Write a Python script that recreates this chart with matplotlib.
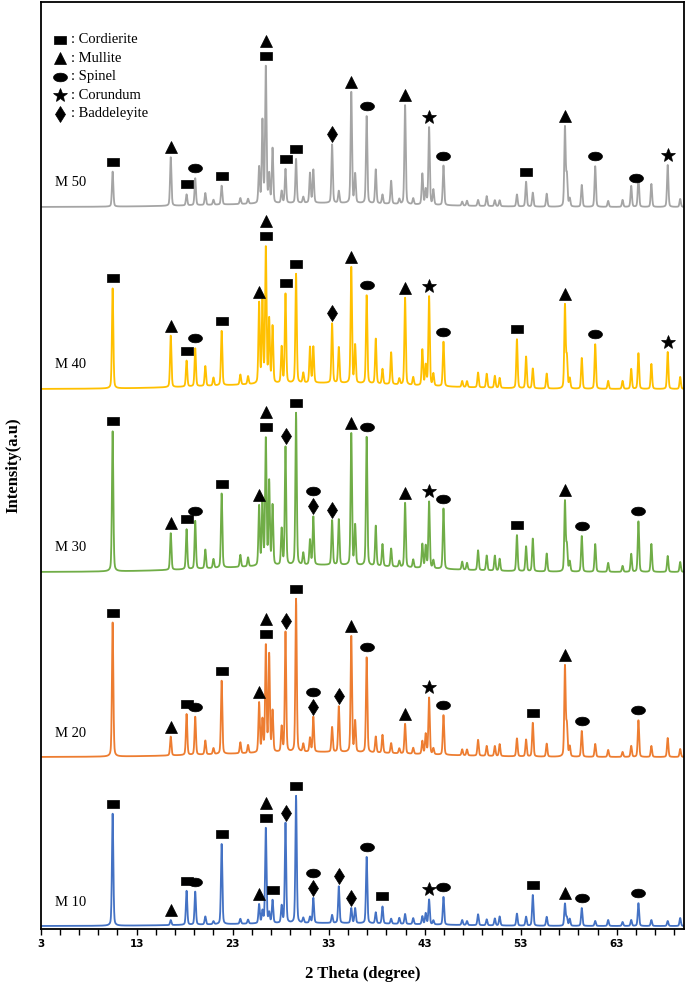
import numpy as np
import matplotlib
matplotlib.use("Agg")
import matplotlib.pyplot as plt

# peak positions (2 theta, degree) shared by all samples
peak_pos = [10.5, 16.55, 18.2, 19.1, 20.15, 21.0, 21.85, 23.8, 24.6, 25.75,
            26.1, 26.45, 26.8, 27.15, 28.1, 28.5, 29.6, 30.35, 31.05, 31.4,
            33.35, 34.05, 35.35, 35.75, 36.95, 37.9, 38.6, 39.5, 40.35, 40.95,
            41.8, 42.75, 43.1, 43.45, 43.9, 44.95, 46.9, 47.4, 48.55, 49.45,
            50.3, 50.8, 52.6, 53.55, 54.25, 55.7, 57.6, 57.8, 58.1, 59.35,
            60.75, 62.1, 63.6, 64.5, 65.25, 66.6, 68.3, 69.6]

# peak heights (arbitrary units)
h_m10 = [112, 5, 34, 33, 8, 3, 81, 5, 4, 19,
         12, 96, 10, 23, 17, 100, 127, 5, 6, 25,
         8, 37, 15, 15, 67, 11, 17, 5, 6, 10,
         6, 8, 11, 25, 4, 28, 5, 4, 11, 6,
         7, 9, 12, 9, 31, 9, 22, 8, 7, 18,
         5, 6, 4, 6, 23, 6, 5, 8]
h_m20 = [134, 19, 41, 38, 14, 6, 74, 11, 8, 50,
         32, 107, 97, 41, 25, 120, 153, 8, 14, 35,
         25, 46, 117, 31, 96, 16, 18, 10, 5, 30,
         6, 13, 20, 57, 6, 40, 6, 6, 16, 10,
         10, 12, 18, 17, 34, 13, 90, 30, 10, 26,
         13, 7, 5, 11, 37, 11, 19, 8]
h_m30 = [140, 37, 40, 48, 19, 9, 75, 12, 9, 60,
         65, 127, 83, 60, 36, 118, 152, 12, 25, 48,
         45, 46, 133, 40, 130, 40, 22, 18, 6, 65,
         8, 24, 22, 67, 8, 61, 8, 7, 20, 15,
         15, 12, 36, 25, 33, 18, 70, 25, 10, 36,
         28, 9, 6, 18, 51, 28, 16, 10]
h_m40 = [100, 52, 26, 38, 20, 8, 55, 10, 8, 81,
         81, 136, 63, 57, 36, 89, 109, 10, 36, 36,
         60, 36, 117, 38, 89, 45, 15, 32, 6, 88,
         8, 36, 20, 90, 12, 45, 6, 6, 15, 14,
         12, 10, 49, 32, 20, 15, 83, 30, 10, 31,
         45, 8, 8, 20, 36, 25, 37, 12]
h_m50 = [35, 49, 11, 27, 12, 5, 19, 6, 5, 36,
         82, 137, 28, 55, 12, 34, 44, 6, 30, 33,
         59, 12, 112, 29, 88, 34, 9, 23, 5, 100,
         6, 31, 15, 78, 15, 40, 4, 5, 6, 10,
         6, 6, 12, 25, 14, 13, 79, 30, 8, 22,
         41, 6, 7, 21, 30, 23, 42, 8]

samples = ["M 10", "M 20", "M 30", "M 40", "M 50"]
heights = [h_m10, h_m20, h_m30, h_m40, h_m50]
offsets = [3, 172, 357, 540, 722]
hump = [3, 5, 7, 6, 4]  # broad amorphous background
colors = ["#4472c4", "#ed7d31", "#70ad47", "#ffc000", "#a5a5a5"]

# phase marks: (2 theta, symbols from bottom to top)
# s cordierite, m mullite, o spinel, c corundum, b baddeleyite
marks_m10 = [(10.5, "s"), (16.55, "m"), (18.2, "s"), (19.1, "o"), (21.85, "s"),
             (25.75, "m"), (26.45, "sm"), (27.15, "s"), (28.5, "b"), (29.6, "s"),
             (31.4, "bo"), (34.05, "b"), (35.35, "b"), (36.95, "o"), (38.6, "s"),
             (43.45, "c"), (44.95, "o"), (54.25, "s"), (57.6, "m"), (59.35, "o"),
             (65.25, "o")]
marks_m20 = [(10.5, "s"), (16.55, "m"), (18.2, "s"), (19.1, "o"), (21.85, "s"),
             (25.75, "m"), (26.45, "sm"), (28.5, "b"), (29.6, "s"), (31.4, "bo"),
             (34.05, "b"), (35.35, "m"), (36.95, "o"), (40.95, "m"), (43.45, "c"),
             (44.95, "o"), (54.25, "s"), (57.6, "m"), (59.35, "o"), (65.25, "o")]
marks_m30 = [(10.5, "s"), (16.55, "m"), (18.2, "s"), (19.1, "o"), (21.85, "s"),
             (25.75, "m"), (26.45, "sm"), (28.5, "b"), (29.6, "s"), (31.4, "bo"),
             (33.35, "b"), (35.35, "m"), (36.95, "o"), (40.95, "m"), (43.45, "c"),
             (44.95, "o"), (52.6, "s"), (57.6, "m"), (59.35, "o"), (65.25, "o")]
marks_m40 = [(10.5, "s"), (16.55, "m"), (18.2, "s"), (19.1, "o"), (21.85, "s"),
             (25.75, "m"), (26.45, "sm"), (28.5, "s"), (29.6, "s"), (33.35, "b"),
             (35.35, "m"), (36.95, "o"), (40.95, "m"), (43.45, "c"), (44.95, "o"),
             (52.6, "s"), (57.6, "m"), (60.75, "o"), (68.3, "c")]
marks_m50 = [(10.5, "s"), (16.55, "m"), (18.2, "s"), (19.1, "o"), (21.85, "s"),
             (26.45, "sm"), (28.5, "s"), (29.6, "s"), (33.35, "b"), (35.35, "m"),
             (36.95, "o"), (40.95, "m"), (43.45, "c"), (44.95, "o"), (53.55, "s"),
             (57.6, "m"), (60.75, "o"), (65.0, "o"), (68.3, "c")]
marks = [marks_m10, marks_m20, marks_m30, marks_m40, marks_m50]

phases = ["Cordierite", "Mullite", "Spinel", "Corundum", "Baddeleyite"]

# marker shapes
rect = [(-1.5, -1), (1.5, -1), (1.5, 1), (-1.5, 1), (-1.5, -1)]
t = np.linspace(0, 2 * np.pi, 41)
oval = list(zip(1.6 * np.cos(t), np.sin(t)))
sym = {"s": (rect, 8.5), "m": ("^", 8.5), "o": (oval, 10),
       "c": ("*", 10), "b": ("d", 8.5)}


def pattern(x, h, bg):
    y = np.zeros_like(x) + bg * np.exp(-((x - 32) / 14) ** 2)
    w = 0.17
    for c, a in zip(peak_pos, h):
        g = np.exp(-4 * np.log(2) * ((x - c) / w) ** 2)
        lo = 1 / (1 + 4 * ((x - c) / w) ** 2)
        y += a * (0.3 * lo + 0.7 * g)
    return y


x = np.arange(3, 70.01, 0.02)

fig = plt.figure(figsize=(6.85, 9.88), dpi=100)
ax = fig.add_axes([0.0593, 0.0597, 0.9393, 0.9383])
serif = "Liberation Serif"

for name, h, off, bg, col, mk in zip(samples, heights, offsets, hump, colors, marks):
    y = pattern(x, h, bg) + off
    ax.plot(x, y, color=col, lw=1.3)
    ax.text(4.5, off + 24, name, fontsize=10.5, family=serif, va="center")
    for pos, s in mk:
        sel = np.abs(x - pos) < 0.2
        top = y[sel].max()
        for k, ch in enumerate(s):
            m, ms = sym[ch]
            ax.plot(pos, top + 10 + 15 * k, marker=m, ms=ms, color="black",
                    mec="black", mew=0.5, ls="none")

# legend
for i, (ch, name) in enumerate(zip("smocb", phases)):
    yy = 889 - 18.5 * i
    m, ms = sym[ch]
    ax.plot(5.0, yy, marker=m, ms=ms, color="black", mew=0.5, ls="none")
    ax.text(6.2, yy, ": " + name, fontsize=10.5, family=serif, va="center")

ax.set_xlim(3, 70)
ax.set_ylim(0, 927)
ax.set_yticks([])
ax.set_xticks(np.arange(3, 70, 10))
ax.set_xticks(np.arange(3, 70, 2), minor=True)
ax.tick_params(axis="x", which="both", direction="out", length=4, width=1)
for lab in ax.get_xticklabels():
    lab.set_fontweight("bold")
    lab.set_fontsize(7.5)
for sp in ax.spines.values():
    sp.set_linewidth(1.3)

ax.set_xlabel("2 Theta (degree)", fontsize=12, fontweight="bold", family=serif,
              labelpad=12)
ax.set_ylabel("Intensity(a.u)", fontsize=12, fontweight="bold", family=serif,
              labelpad=14)

fig.savefig("out.png", dpi=100)
